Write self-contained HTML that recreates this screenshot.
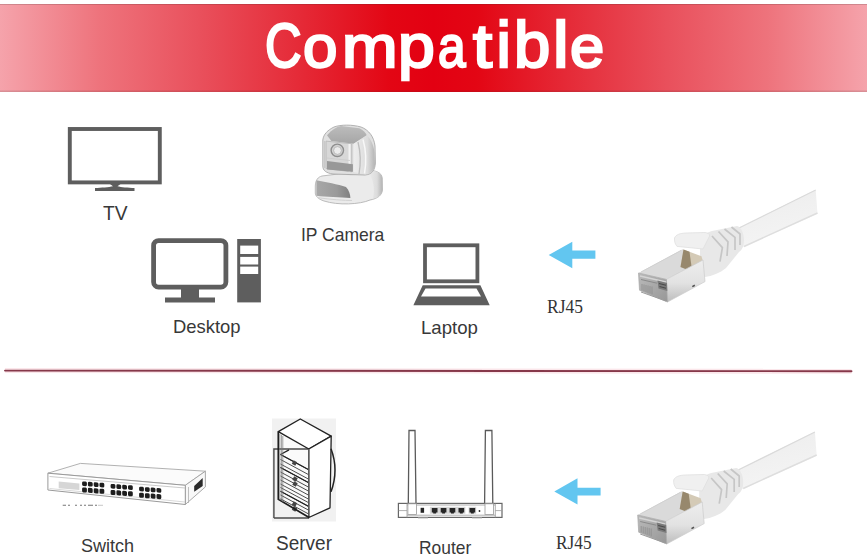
<!DOCTYPE html>
<html><head><meta charset="utf-8">
<style>
html,body{margin:0;padding:0;background:#fff;}
body{width:867px;height:558px;position:relative;overflow:hidden;font-family:"Liberation Sans",sans-serif;}
#banner{position:absolute;left:0;top:4px;width:867px;height:87.5px;
background:linear-gradient(90deg,#f5a3ab 0%,#ee737c 11.5%,#e9505c 23%,#e52a37 34.6%,#e30614 45%,#e30012 50%,#e30614 55%,#e52a37 65.4%,#e9505c 77%,#ee737c 88.5%,#f5a3ab 100%);
box-shadow:inset 0 1px 0 rgba(60,40,40,0.2),inset 0 -1.5px 0 rgba(60,40,40,0.15);}
#title{position:absolute;left:0;top:12.5px;width:867px;height:70px;}
#title span{position:absolute;top:0;font-size:64.5px;line-height:64.5px;color:#fff;-webkit-text-stroke:2.5px #fff;transform-origin:0 55px;white-space:nowrap;}
.lb{position:absolute;font-size:19px;line-height:19px;color:#383838;white-space:nowrap;}
.rj{position:absolute;font-family:"Liberation Serif",serif;font-size:18px;line-height:18px;color:#333;white-space:nowrap;}
#art{position:absolute;left:0;top:0;}
</style></head>
<body>
<div id="banner"></div>
<div id="title"><span style="left:264.6px;transform:scale(0.784,0.97);">C</span><span style="left:303.2px;transform:scale(0.959,0.925);">o</span><span style="left:341.8px;transform:scale(1.034,0.925);">m</span><span style="left:398.3px;transform:scale(1.026,0.94);">p</span><span style="left:438.1px;transform:scale(0.769,0.925);">a</span><span style="left:472.9px;transform:scale(1.067,0.947);">t</span><span style="left:496.5px;transform:scale(1.000,1.0);">i</span><span style="left:514.3px;transform:scale(1.010,1.0);">b</span><span style="left:552.8px;transform:scale(1.087,1.0);">l</span><span style="left:569.5px;transform:scale(0.953,0.925);">e</span></div>

<svg id="art" width="867" height="558" viewBox="0 0 867 558">
  <!-- separator line -->
  <path d="M5,370.6 L851.5,371.2" stroke="#fbe6ea" stroke-width="5"/>
  <path d="M5,370.6 L851.5,371.2" stroke="#86384a" stroke-width="1.9" stroke-linecap="round"/>

  <!-- TV -->
  <g fill="#5e5e5e">
    <rect x="69.8" y="129" width="90" height="53.4" fill="none" stroke="#5e5e5e" stroke-width="3.9"/>
    <path d="M110,184 L120.5,184 L117.5,186.3 C121,187.3 128,187.8 134.5,188.1 L134.5,190.9 L95,190.9 L95,188.1 C101,187.8 109,187.3 113,186.3 Z"/>
  </g>

  <!-- Desktop -->
  <g fill="#5e5e5e">
    <rect x="153.6" y="240.6" width="72.3" height="46.5" rx="5" fill="none" stroke="#5e5e5e" stroke-width="4.8"/>
    <rect x="181" y="288" width="18" height="11"/>
    <rect x="165" y="297.5" width="50" height="5"/>
    <rect x="237.2" y="239" width="23.7" height="63.4"/>
    <rect x="240.2" y="245.6" width="18" height="8.4" fill="#fff"/>
    <rect x="240.2" y="256.9" width="18" height="7.6" fill="#fff"/>
    <rect x="240.2" y="266.6" width="18" height="7.4" fill="#fff"/>
  </g>

  <!-- Laptop -->
  <g fill="#5e5e5e">
    <rect x="425" y="245.3" width="52.4" height="36" fill="none" stroke="#5e5e5e" stroke-width="3.8"/>
    <path d="M422.7,285.3 L480.4,285.3 L489.7,305.3 L413.4,305.3 Z M425.5,288.4 L476.5,288.4 L481,296.6 L421,296.6 Z" fill-rule="evenodd"/>
  </g>

  <!-- IP camera -->
  <defs>
    <linearGradient id="camBand" x1="0" y1="0" x2="1" y2="0">
      <stop offset="0" stop-color="#a8a8a8"/><stop offset="0.6" stop-color="#9a9a9a"/><stop offset="1" stop-color="#808080"/>
    </linearGradient>
    <linearGradient id="camDome" x1="0" y1="0" x2="1" y2="0">
      <stop offset="0" stop-color="#eeeeee"/><stop offset="0.65" stop-color="#dcdcdc"/><stop offset="1" stop-color="#b4b4b4"/>
    </linearGradient>
    <linearGradient id="camTop" x1="0" y1="0" x2="0" y2="1">
      <stop offset="0" stop-color="#bcbcbc"/><stop offset="1" stop-color="#a6a6a6"/>
    </linearGradient>
  </defs>
  <g id="camera">
    <!-- base -->
    <path d="M315.3,186 C315.5,180 318,177 322,176 L366,170.5 C375,170 381.5,172 382.2,178 L382.4,190 C382,195 378,198.5 370,200 C360,204.5 338,205.5 324,201 C318,199 315.3,196 315.3,193 Z" fill="#ebebeb" stroke="#b4b4b4" stroke-width="0.9"/>
    <path d="M367,170.6 C375,170 381.5,172 382.2,178 L382.4,190 C382,195 379,197.5 373,198.5 C375,190 374,179 367,170.6 Z" fill="url(#camDome)"/>
    <path d="M316.4,180.3 C326,182 338,184.5 346,186.9 C349,190 350.2,194 350.4,197.9 C340,197.5 326,196.8 316.4,195.7 Z" fill="url(#camBand)"/>
    <path d="M317,197.5 C330,199.5 345,200.5 352,200.5" fill="none" stroke="#d2d2d2" stroke-width="1"/>
    <path d="M328,172 C338,174 350,175.5 360,174" fill="none" stroke="#d4d4d4" stroke-width="1.2"/>
    <!-- head -->
    <path d="M322.8,140 C323.5,134 328,130 334,127 C341,124.5 352,124.5 361,127 C369,130 374,137 375,146 L375.4,163 C375,170 372,174.5 365,175 L333,174 C326,173 322.8,170.5 322.8,166 Z" fill="#e0e0e0" stroke="#aaaaaa" stroke-width="0.9"/>
    <path d="M327,135.2 C332,130 336,127 341,126.1 L359.3,128.2 C363,130 366,133 366.8,135.2 L353.9,143.8 L331.4,141.1 Z" fill="url(#camTop)"/>
    <path d="M353.5,143.8 L366.8,135.2 C371,139 373.5,145 374.5,152 L375,165 C374.5,170 371,173.5 365.5,174.5 L353.5,172 Z" fill="url(#camDome)"/>
    <path d="M358,142 C360.5,152 360.8,164 359,174" fill="none" stroke="#bdbdbd" stroke-width="1.3"/>
    <path d="M363,139.5 C366,150 366.5,162 364.5,173.5" fill="none" stroke="#f8f8f8" stroke-width="1.5"/>
    <path d="M324.5,141 L324.5,168" fill="none" stroke="#c9c9c9" stroke-width="1.2"/>
    <path d="M326,141.1 L351.8,143.8 L351.8,171.8 L326,168.5 Z" fill="#d8d8d8" stroke="#b0b0b0" stroke-width="0.7"/>
    <path d="M349.5,144 L349.5,171.5" fill="none" stroke="#f2f2f2" stroke-width="2"/>
    <path d="M327,161 L352.9,164.2 L352.9,171.8 L327,169.6 Z" fill="#989898"/>
    <path d="M327,158 L350,160.5" fill="none" stroke="#cacaca" stroke-width="0.8"/>
    <circle cx="337.3" cy="150.3" r="6.2" fill="#d2d2d2" stroke="#8e8e8e" stroke-width="1.4"/>
    <circle cx="337.5" cy="150.5" r="3.9" fill="#ececec" stroke="#b0b0b0" stroke-width="0.8"/>
  </g>

  <!-- RJ45 plug + cable -->
  <defs>
    <linearGradient id="cabG" x1="0" y1="0" x2="0.35" y2="1">
      <stop offset="0" stop-color="#dcdcdc"/><stop offset="0.35" stop-color="#efefef"/><stop offset="1" stop-color="#f4f4f4"/>
    </linearGradient>
    <linearGradient id="sideG" x1="0" y1="0" x2="0" y2="1">
      <stop offset="0" stop-color="#eeeeee"/><stop offset="0.55" stop-color="#e2e2e2"/><stop offset="1" stop-color="#bdbdbd"/>
    </linearGradient>
    <linearGradient id="frontG" x1="0" y1="0" x2="1" y2="1">
      <stop offset="0" stop-color="#bababa"/><stop offset="1" stop-color="#979797"/>
    </linearGradient>
    <linearGradient id="holeG" x1="0" y1="0" x2="1" y2="0">
      <stop offset="0" stop-color="#a39478"/><stop offset="0.55" stop-color="#b9ad96"/><stop offset="1" stop-color="#e0d9cc"/>
    </linearGradient>
    <g id="plug">
      <!-- cable -->
      <path d="M735,229.5 L815.7,189.8 L817.5,213.8 L741,248 Z" fill="url(#cabG)"/>
      <path d="M744,246.5 L817.5,213" stroke="#dedede" stroke-width="1.5" fill="none"/>
      <path d="M738,228.5 L815.7,190" stroke="#dadada" stroke-width="1.2" fill="none"/>
      <!-- boot -->
      <path d="M700,240 C704,234 708,232 712,231 L737,226 C741,227 744,233 744,240 C744,246 742,250 739,252 L726,268 C720,273 712,276 705,277 L700,272 Z" fill="#e8e8e8"/>
      <path d="M712,236 L722.4,247.6 L720,261.6 M718.5,231.5 L728,241.8 L727,256 M724.5,229 L735,237.3 L735,249.9 M731.5,227 L740,234 L740,245" stroke="#c6c6c6" stroke-width="1.7" fill="none" stroke-linejoin="round"/>
      <!-- latch -->
      <path d="M674.5,238 C676,234.5 680,233.3 686,233 L705,232.5 C708,233 710,234 709.6,236 L703,249 L677,246.4 C675,244 674.2,241 674.5,238 Z" fill="#f0f0f0" stroke="#e0e0e0" stroke-width="0.8"/>
      <!-- top face -->
      <path d="M638.5,273 L682.5,249.3 L703,260 L666.4,279.4 Z" fill="#dadada"/>
      <path d="M641,272 L681,250.5" stroke="#d0d0d0" stroke-width="1" fill="none"/>
      <!-- hole -->
      <path d="M683.5,249.5 L701.5,256.3 L702.5,260 L690.5,271 L680.5,267 Z" fill="#d4cab6"/>
      <path d="M683.5,249.5 L689.5,251.8 L692,270 L690.5,271 L680.5,267 Z" fill="#97886d"/>
      <!-- right side face -->
      <path d="M666.4,279.4 L703,260 L705,281.6 L667.5,302 Z" fill="url(#sideG)" stroke="#cccccc" stroke-width="0.7"/>
      <path d="M692.3,286.6 L694.8,285.3" stroke="#505050" stroke-width="1.6"/>
      <!-- front face -->
      <path d="M638.5,273 L666.4,279.4 L667.5,302 L639.5,290.2 Z" fill="url(#frontG)" stroke="#a8a8a8" stroke-width="0.7"/>
      <path d="M640,276 L666,282" stroke="#d4d4d4" stroke-width="1.4" fill="none"/>
      <path d="M641,279.5 L657,283.2" stroke="#8a8a8a" stroke-width="1" fill="none"/>
      <path d="M642,284 L642,290.5 M644,284.5 L644,291.3 M646,285 L646,292 M648,285.5 L648,292.8 M650,286 L650,293.5 M652,286.5 L652,294.3" stroke="#909090" stroke-width="0.9" fill="none"/>
      <path d="M657.5,280.5 L667,283 L667.3,291 L658.5,288.5 Z" fill="#7a7a7a"/>
      <path d="M659,283.5 L666,285.3 M659.5,286.5 L666,288.2" stroke="#4a4a4a" stroke-width="1.1"/>
      <path d="M641,292 L666,301" stroke="#9a9a9a" stroke-width="1" fill="none"/>
    </g>
  </defs>
  <use href="#plug"/>
  <use href="#plug" transform="translate(-0.8,242)"/>

  <!-- Switch -->
  <g id="switch">
    <path d="M47.9,473.2 L80.4,463.4 L205.4,471.2 L185.3,485.3 Z" fill="#fbfbfb" stroke="#a8a8a8" stroke-width="0.9"/>
    <path d="M185.3,485.3 L205.4,471.2 L205.4,486.9 L185.3,504.5 Z" fill="#f8f8f8" stroke="#a0a0a0" stroke-width="0.9"/>
    <path d="M47.9,473.2 L185.3,485.3 L185.3,504.5 L47.9,490 Z" fill="#fff" stroke="#9a9a9a" stroke-width="1"/>
    <path d="M49.5,476.5 L185,488" stroke="#c4c4c4" stroke-width="0.9" fill="none"/>
    <path d="M49.5,488.5 L185,502" stroke="#cfcfcf" stroke-width="0.8" fill="none"/>
    <path d="M58.7,481.6 L79.4,483.5 L79.4,490 L58.7,488.2 Z" fill="#d6d6d6"/>
    <path d="M194.2,486 L202.7,477.9 L202.7,486 L194.2,491.8 Z" fill="#2a2a2a"/>
    <path d="M188.5,487 L188.5,503" stroke="#b0b0b0" stroke-width="0.8"/>
    <g fill="#1e1e1e">
      <g transform="translate(82.1,481.3) skewY(4.3)">
        <rect x="0" y="0" width="4.8" height="4.6" rx="1.4"/><rect x="5.8" y="0" width="4.8" height="4.6" rx="1.4"/><rect x="11.6" y="0" width="4.8" height="4.6" rx="1.4"/><rect x="17.4" y="0" width="4.8" height="4.6" rx="1.4"/>
        <rect x="0" y="6" width="4.8" height="5" rx="1.4"/><rect x="5.8" y="6" width="4.8" height="5" rx="1.4"/><rect x="11.6" y="6" width="4.8" height="5" rx="1.4"/><rect x="17.4" y="6" width="4.8" height="5" rx="1.4"/>
      </g>
      <g transform="translate(110.6,483.8) skewY(4.3)">
        <rect x="0" y="0" width="4.8" height="4.6" rx="1.4"/><rect x="5.8" y="0" width="4.8" height="4.6" rx="1.4"/><rect x="11.6" y="0" width="4.8" height="4.6" rx="1.4"/><rect x="17.4" y="0" width="4.8" height="4.6" rx="1.4"/>
        <rect x="0" y="6" width="4.8" height="5" rx="1.4"/><rect x="5.8" y="6" width="4.8" height="5" rx="1.4"/><rect x="11.6" y="6" width="4.8" height="5" rx="1.4"/><rect x="17.4" y="6" width="4.8" height="5" rx="1.4"/>
      </g>
      <g transform="translate(139.1,486.6) skewY(4.3)">
        <rect x="0" y="0" width="4.8" height="4.6" rx="1.4"/><rect x="5.8" y="0" width="4.8" height="4.6" rx="1.4"/><rect x="11.6" y="0" width="4.8" height="4.6" rx="1.4"/><rect x="17.4" y="0" width="4.8" height="4.6" rx="1.4"/>
        <rect x="0" y="6" width="4.8" height="5" rx="1.4"/><rect x="5.8" y="6" width="4.8" height="5" rx="1.4"/><rect x="11.6" y="6" width="4.8" height="5" rx="1.4"/><rect x="17.4" y="6" width="4.8" height="5" rx="1.4"/>
      </g>
    </g>
    <path d="M62.7,505.3 L66,505.3 M68,505.3 L70,505.3 M75,505.3 L77,505.3 M80,505.3 L82,505.3 M84,505.3 L86,505.3 M88,505.3 L93,505.3 M95,505.3 L97,505.3" stroke="#777" stroke-width="1.1"/>
    <path d="M98,505.3 L103,505.3" stroke="#ccc" stroke-width="1.1"/>
  </g>

  <!-- Server -->
  <g id="server">
    <rect x="272" y="418.5" width="64" height="103" fill="#f1f1f1"/>
    <path d="M278.3,431.6 L308.8,449 L308.8,517.5 L278.3,499.2 Z" fill="#fafafa"/>
    <g fill="none" stroke="#3a3a3a" stroke-width="0.9">
      <path d="M280.5,454.5 L308.3,469.5 M280.5,459.5 L308.3,474.5 M280.5,464 L308.3,479 M280.5,467.5 L308.3,482.5 M280.5,472 L308.3,487 M280.5,476 L308.3,491 M280.5,480 L308.3,495 M280.5,484 L308.3,499 M280.5,487.5 L308.3,502.5 M280.5,491.3 L308.3,506.3 M280.5,495 L308.3,510 M280.5,498.8 L308.3,513.8"/>
    </g>
    <g fill="none" stroke="#222" stroke-width="1.3">
      <path d="M280.5,454.5 L308.3,469.5 M280.5,467.5 L308.3,482.5 M280.5,491.3 L308.3,506.3"/>
      <path d="M273.9,518 L273.9,449 L308.8,449" stroke="#4a4a4a" stroke-width="1.4"/>
      <path d="M273.9,518 L309.1,518" stroke="#4a4a4a" stroke-width="1.4"/>
      <path d="M280.5,454.5 L289,449.9"/>
    </g>
    <g fill="#444">
      <rect x="292.5" y="461" width="4" height="4" transform="rotate(28 294.5 463)"/><rect x="293" y="477" width="4" height="4" transform="rotate(28 295 479)"/><rect x="293" y="482" width="4" height="4" transform="rotate(28 295 484)"/><rect x="292.5" y="502" width="4" height="4" transform="rotate(28 294.5 504)"/><rect x="292.5" y="507" width="4" height="4" transform="rotate(28 294.5 509)"/>
    </g>
    <path d="M300.3,419 L331.2,436.1 L308.8,449 L278.3,431.6 Z" fill="#fff" stroke="#222" stroke-width="1.4" stroke-linejoin="round"/>
    <path d="M308.8,449 L331.2,436.1 L330,507.8 L308.8,517.5 Z" fill="#fff" stroke="#222" stroke-width="1.3" stroke-linejoin="round"/>
    <path d="M308.8,449 L308.8,517.5" fill="none" stroke="#666" stroke-width="1"/>
    <path d="M278.3,431.6 L278.3,499.2 L309.1,517.5" fill="none" stroke="#1e1e1e" stroke-width="1.7"/>
    <path d="M279.8,434 L279.8,500 M281.4,435 L281.4,501 M282.8,436 L282.8,502" fill="none" stroke="#777" stroke-width="0.7"/>
    <path d="M331,448.7 Q339,470 331,491.7" fill="none" stroke="#222" stroke-width="1.5"/>
  </g>

  <!-- Router -->
  <g id="router">
    <path d="M409,430.5 L415,430.5 L416,503.6 L408.3,503.6 Z" fill="#fff" stroke="#5a5a5a" stroke-width="1.3"/>
    <path d="M485.4,430.5 L491.9,430.5 L492.8,503.6 L484.6,503.6 Z" fill="#fff" stroke="#5a5a5a" stroke-width="1.3"/>
    <rect x="398.4" y="503.4" width="103.6" height="14" fill="#fff" stroke="#666" stroke-width="1.2"/>
    <path d="M407,505 L495.3,505 M407,515.2 L495.3,515.2 M407,503.6 L407,517.4 M495.3,503.6 L495.3,517.4 M398.6,510.6 L407,510.6 M495.3,510.6 L502,510.6" stroke="#9a9a9a" stroke-width="0.8" fill="none"/>
    <rect x="407.9" y="503.8" width="8.6" height="10.8" fill="#fff" stroke="#999" stroke-width="0.8"/>
    <rect x="485" y="503.8" width="8.6" height="10.8" fill="#fff" stroke="#999" stroke-width="0.8"/>
    <rect x="429.9" y="506.8" width="35.5" height="7" fill="#d8d8d8"/>
    <rect x="468.6" y="506.8" width="7.6" height="7" fill="#d8d8d8"/>
    <g fill="#262626">
      <path d="M420.6,507.8 h3.5 v5 h-3.5 Z"/>
      <path d="M431.8,508 h5.7 v4.6 h-1.4 v0.8 h-2.9 v-0.8 h-1.4 Z"/>
      <path d="M440.7,508 h5.7 v4.6 h-1.4 v0.8 h-2.9 v-0.8 h-1.4 Z"/>
      <path d="M449.6,508 h5.7 v4.6 h-1.4 v0.8 h-2.9 v-0.8 h-1.4 Z"/>
      <path d="M458.5,508 h5.7 v4.6 h-1.4 v0.8 h-2.9 v-0.8 h-1.4 Z"/>
      <path d="M469.5,508 h5.7 v4.6 h-1.4 v0.8 h-2.9 v-0.8 h-1.4 Z"/>
      <circle cx="479.5" cy="511" r="0.9"/>
    </g>
    <path d="M418,518 L428,518 M472,518 L482,518" stroke="#bbb" stroke-width="1"/>
  </g>

  <!-- arrows -->
  <path d="M548.7,255 L572.3,241.7 L572.3,250.5 L595.4,250.5 L595.4,258.8 L572.3,258.8 L572.3,268.2 Z" fill="#62c6f0"/>
  <path d="M554.3,491.6 L577.5,478.3 L577.5,487.7 L600.6,487.7 L600.6,495.5 L577.5,495.5 L577.5,504.4 Z" fill="#62c6f0"/>
</svg>

<div class="lb" id="t_tv" style="left:102.6px;top:204.4px;font-size:19.6px;transform:scaleX(0.98);transform-origin:0 0;">TV</div>
<div class="lb" id="t_cam" style="left:301.3px;top:224.6px;transform:scaleX(0.92);transform-origin:0 0;">IP Camera</div>
<div class="lb" id="t_desk" style="left:173px;top:317.4px;transform:scaleX(0.97);transform-origin:0 0;">Desktop</div>
<div class="lb" id="t_lap" style="left:420.6px;top:318px;transform:scaleX(0.98);transform-origin:0 0;">Laptop</div>
<div class="rj" id="t_rj1" style="left:547px;top:298px;transform:scaleX(0.97);transform-origin:0 0;">RJ45</div>
<div class="lb" id="t_sw" style="left:81px;top:536px;transform:scaleX(0.95);transform-origin:0 0;">Switch</div>
<div class="lb" id="t_srv" style="left:275.6px;top:533.8px;font-size:20px;transform:scaleX(0.95);transform-origin:0 0;">Server</div>
<div class="lb" id="t_rt" style="left:419px;top:537.8px;transform:scaleX(0.915);transform-origin:0 0;">Router</div>
<div class="rj" id="t_rj2" style="left:556px;top:534px;transform:scaleX(0.96);transform-origin:0 0;">RJ45</div>
</body></html>
